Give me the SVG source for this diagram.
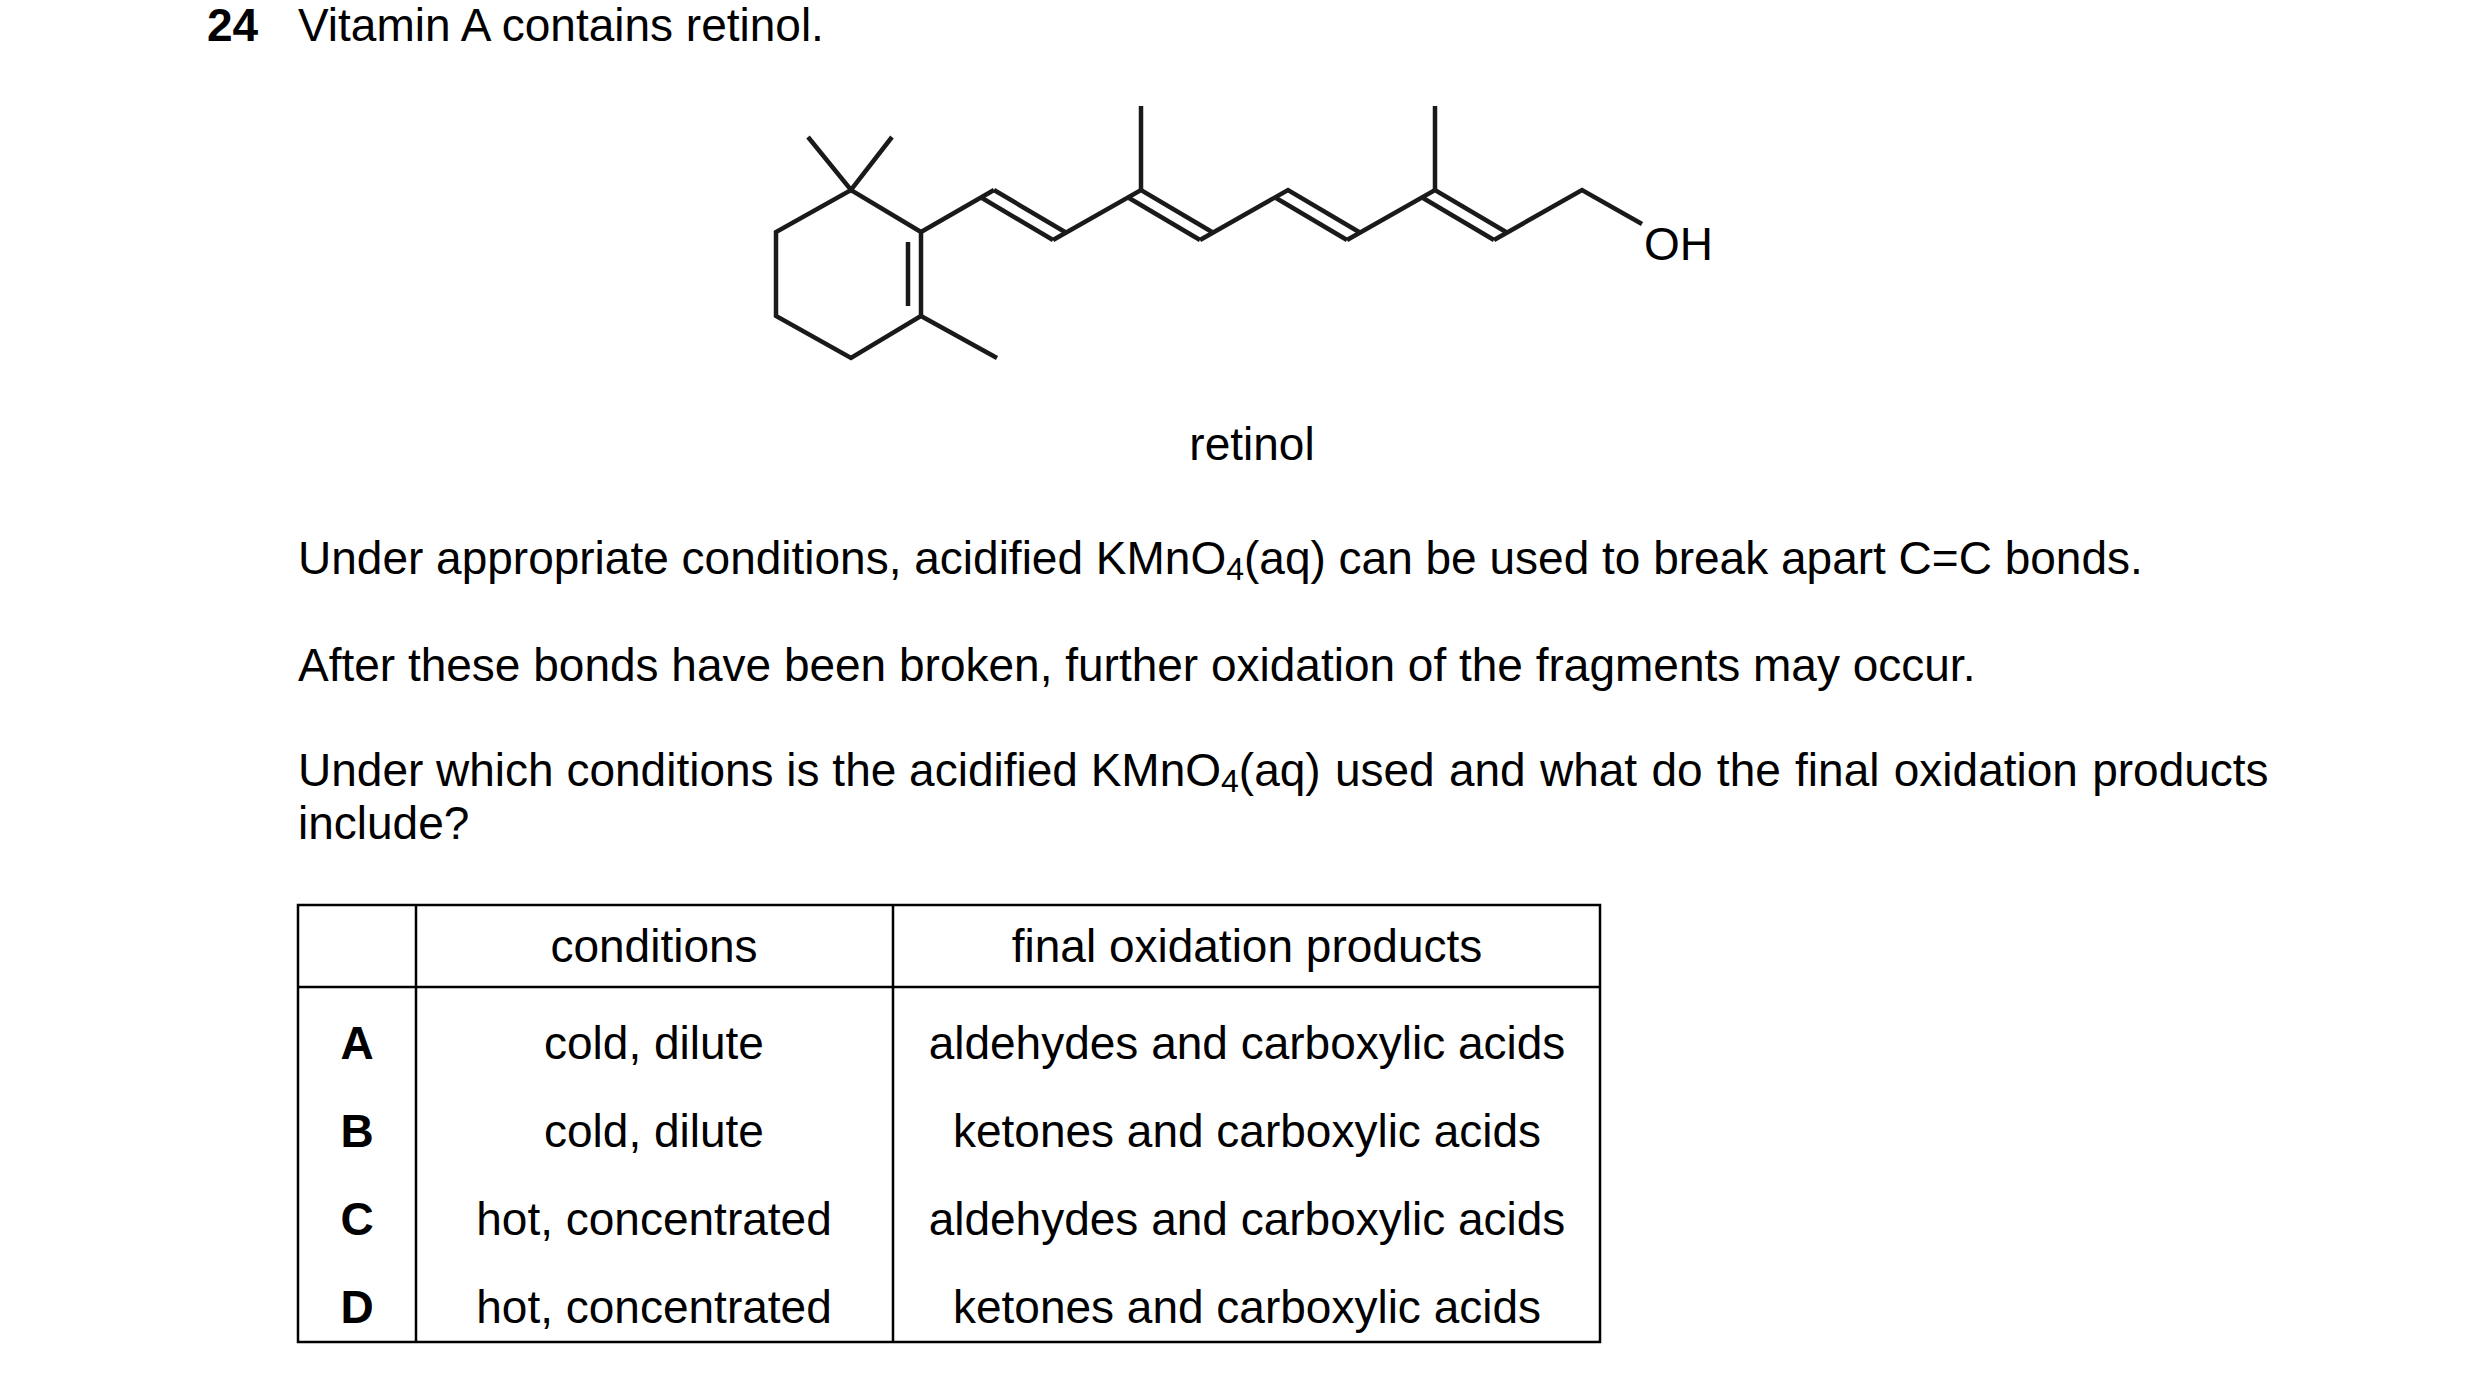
<svg xmlns="http://www.w3.org/2000/svg" width="2480" height="1373" viewBox="0 0 2480 1373">
<style>
text{font-family:"Liberation Sans",Arial,sans-serif;font-size:46px;fill:#000}
.b{font-weight:bold}
.c{text-anchor:middle}
.bond{stroke:#1a1a1a;stroke-width:4.5;fill:none;stroke-linejoin:miter;stroke-linecap:butt}
.tb{stroke:#000;stroke-width:2.5;fill:none}
</style>
<rect width="2480" height="1373" fill="#fff"/>
<text x="207" y="41" class="b">24</text>
<text x="298" y="41">Vitamin A contains retinol.</text>
<g id="retinol">
<g class="bond">
<polyline points="921,232 851,190 776,232 776,316 851,358 921,316 921,232"/>
<line x1="908" y1="242" x2="908" y2="306"/>
<polyline points="808,137 851,190 892,137"/>
<line x1="921" y1="316" x2="997" y2="358"/>
<line x1="921" y1="232" x2="994" y2="190"/>
<polyline points="994,190 1065,232"/>
<line x1="982" y1="198" x2="1053" y2="240"/>
<polyline points="1053,240 1141,190 1212,232"/>
<line x1="1129" y1="198" x2="1200" y2="240"/>
<line x1="1141" y1="190" x2="1141" y2="106"/>
<polyline points="1200,240 1288,190 1359,232"/>
<line x1="1276" y1="198" x2="1347" y2="240"/>
<polyline points="1347,240 1435,190 1506,232"/>
<line x1="1423" y1="198" x2="1494" y2="240"/>
<line x1="1435" y1="190" x2="1435" y2="106"/>
<polyline points="1494,240 1582,190 1642,224"/>
</g>
<text x="1644" y="260" style="font-size:46px">OH</text>
</g>
<text x="1252" y="460" class="c">retinol</text>
<text x="298" y="574">Under appropriate conditions, acidified KMnO<tspan font-size="32" dy="6">4</tspan><tspan dy="-6">(aq) can be used to break apart C=C bonds.</tspan></text>
<text x="298" y="681">After these bonds have been broken, further oxidation of the fragments may occur.</text>
<text x="298" y="786">Under which conditions is the acidified KMnO<tspan font-size="32" dy="6">4</tspan><tspan dy="-6" word-spacing="1.5">(aq) used and what do the final oxidation products</tspan></text>
<text x="298" y="839">include?</text>
<g id="table">
<rect class="tb" x="298" y="905" width="1302" height="437"/>
<line class="tb" x1="298" y1="987" x2="1600" y2="987"/>
<line class="tb" x1="416" y1="905" x2="416" y2="1342"/>
<line class="tb" x1="893" y1="905" x2="893" y2="1342"/>
<text x="654" y="962" class="c">conditions</text>
<text x="1247" y="962" class="c">final oxidation products</text>
<text x="357" y="1059" class="c b">A</text>
<text x="654" y="1059" class="c">cold, dilute</text>
<text x="1247" y="1059" class="c">aldehydes and carboxylic acids</text>
<text x="357" y="1147" class="c b">B</text>
<text x="654" y="1147" class="c">cold, dilute</text>
<text x="1247" y="1147" class="c">ketones and carboxylic acids</text>
<text x="357" y="1235" class="c b">C</text>
<text x="654" y="1235" class="c">hot, concentrated</text>
<text x="1247" y="1235" class="c">aldehydes and carboxylic acids</text>
<text x="357" y="1323" class="c b">D</text>
<text x="654" y="1323" class="c">hot, concentrated</text>
<text x="1247" y="1323" class="c">ketones and carboxylic acids</text>
</g>
</svg>
